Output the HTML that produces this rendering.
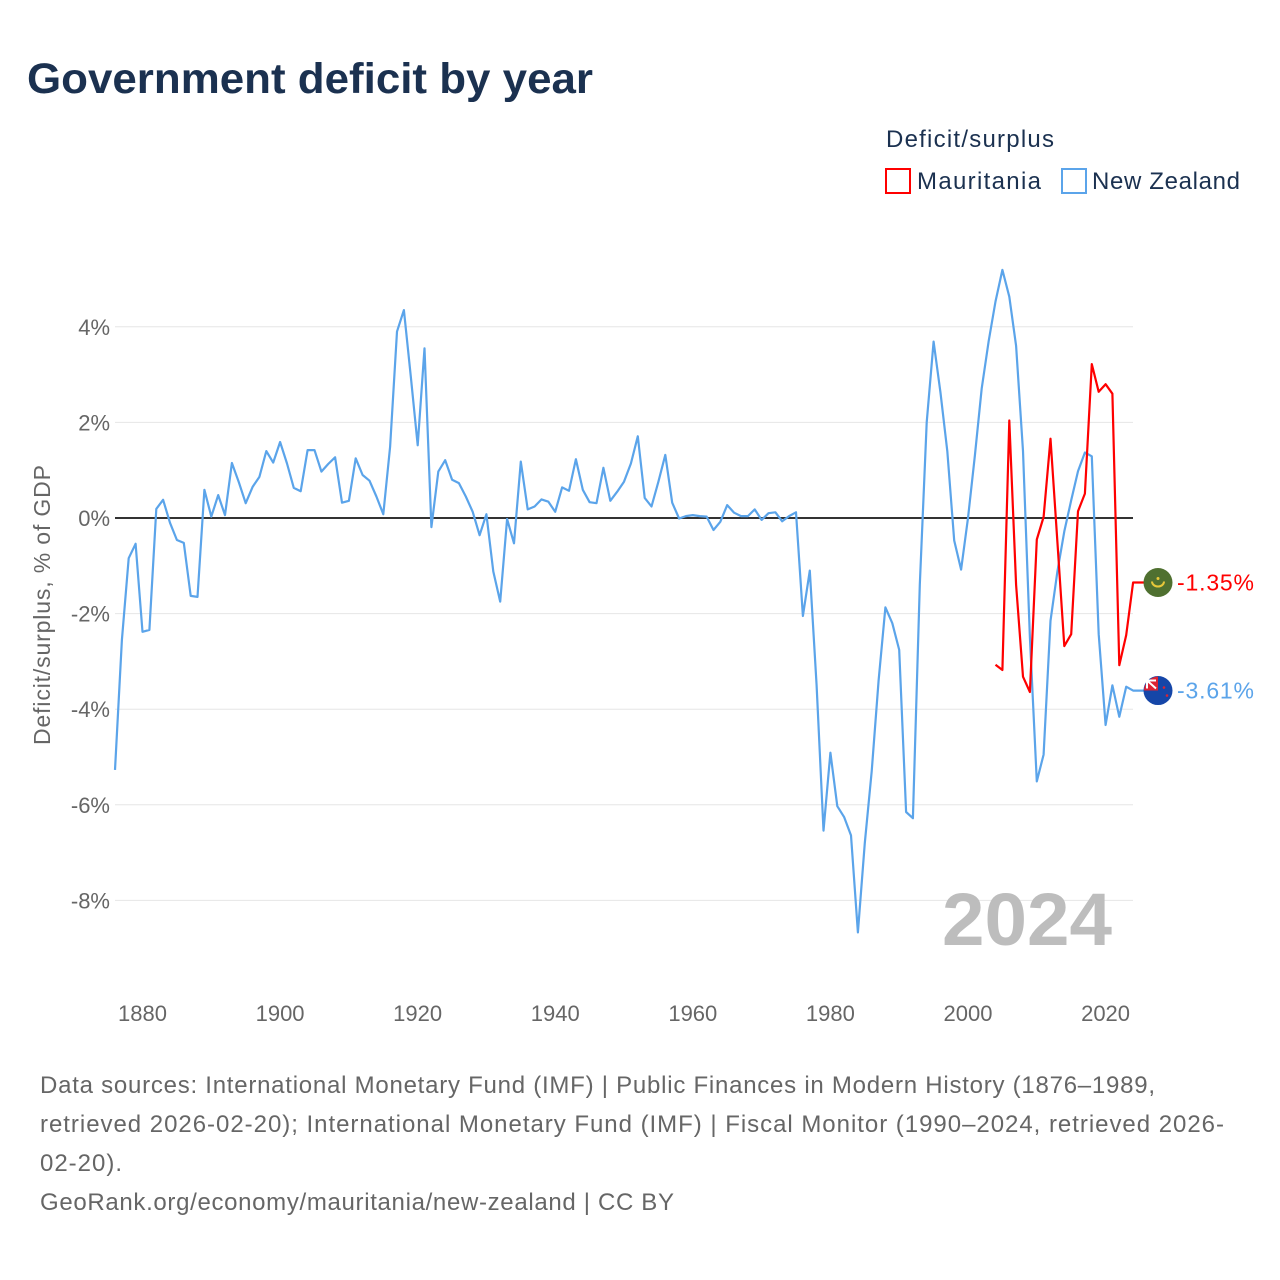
<!DOCTYPE html>
<html><head><meta charset="utf-8"><style>
body{margin:0;background:#fff;font-family:"Liberation Sans",sans-serif;}
#wrap{position:relative;width:1280px;height:1280px;overflow:hidden;}
</style></head><body>
<div id="wrap">
<svg id="chart" width="1280" height="1280" viewBox="0 0 1280 1280">
<text x="27" y="93" font-size="43" font-weight="bold" fill="#1b3150" textLength="566" lengthAdjust="spacingAndGlyphs">Government deficit by year</text>
<text x="886" y="147" font-size="24" fill="#1b3150" textLength="168">Deficit/surplus</text>
<g><rect x="886" y="169" width="24" height="24" fill="#fff" stroke="#f00" stroke-width="2"/><text x="917" y="189" font-size="24" fill="#1b3150" textLength="124">Mauritania</text></g>
<g><rect x="1062" y="169" width="24" height="24" fill="#fff" stroke="#5ba4ea" stroke-width="2"/><text x="1092" y="189" font-size="24" fill="#1b3150" textLength="148">New Zealand</text></g>
<text transform="translate(50,605) rotate(-90)" text-anchor="middle" font-size="23" fill="#666" textLength="280">Deficit/surplus, % of GDP</text>
<g id="grid"></g>
<text x="1112" y="945" text-anchor="end" font-size="74" font-weight="bold" fill="#bdbdbd" textLength="170" lengthAdjust="spacingAndGlyphs">2024</text>
<g id="series"></g>
<g id="labels"></g>
<g font-size="24" fill="#666">
<text x="40" y="1093" textLength="1115">Data sources: International Monetary Fund (IMF) | Public Finances in Modern History (1876–1989,</text>
<text x="40" y="1132" textLength="1184">retrieved 2026-02-20); International Monetary Fund (IMF) | Fiscal Monitor (1990–2024, retrieved 2026-</text>
<text x="40" y="1171" textLength="82">02-20).</text>
<text x="40" y="1210" textLength="634">GeoRank.org/economy/mauritania/new-zealand | CC BY</text>
</g>
</svg>
</div>
<script>
const yTicks=[4,2,0,-2,-4,-6,-8];
const xTicks=[1880,1900,1920,1940,1960,1980,2000,2020];
const nzStart=1876;
const nzValues=[-5.27,-2.55,-0.84,-0.54,-2.38,-2.34,0.19,0.38,-0.1,-0.46,-0.52,-1.63,-1.65,0.59,0.03,0.48,0.06,1.15,0.75,0.31,0.65,0.86,1.4,1.16,1.59,1.14,0.63,0.56,1.42,1.42,0.97,1.13,1.27,0.32,0.36,1.25,0.9,0.78,0.45,0.08,1.49,3.9,4.35,2.96,1.52,3.55,-0.19,0.97,1.21,0.8,0.73,0.45,0.13,-0.36,0.08,-1.12,-1.75,-0.02,-0.53,1.18,0.18,0.24,0.39,0.34,0.13,0.64,0.57,1.23,0.59,0.33,0.31,1.05,0.36,0.55,0.76,1.14,1.71,0.42,0.24,0.76,1.32,0.32,-0.01,0.04,0.06,0.04,0.03,-0.25,-0.08,0.27,0.11,0.04,0.04,0.18,-0.04,0.1,0.12,-0.07,0.04,0.12,-2.05,-1.1,-3.5,-6.54,-4.91,-6.03,-6.26,-6.64,-8.67,-6.8,-5.3,-3.4,-1.87,-2.2,-2.76,-6.15,-6.28,-1.4,2.0,3.69,2.62,1.4,-0.47,-1.08,0,1.31,2.71,3.69,4.53,5.19,4.63,3.6,1.4,-2.5,-5.51,-4.95,-2.15,-1.12,-0.28,0.37,0.98,1.37,1.29,-2.43,-4.33,-3.5,-4.16,-3.53,-3.61];
const mrStart=2004;
const mrValues=[-3.07,-3.18,2.04,-1.4,-3.32,-3.64,-0.45,0.02,1.66,-0.5,-2.68,-2.43,0.14,0.51,3.22,2.64,2.8,2.6,-3.08,-2.45,-1.35];
const NS='http://www.w3.org/2000/svg';
function xS(yr){return 142.5+(yr-1880)*6.879;}
function yS(v){return 518-v*47.8;}
function mk(tag,attrs,parent){const e=document.createElementNS(NS,tag);for(const k in attrs)e.setAttribute(k,attrs[k]);parent.appendChild(e);return e;}
const grid=document.getElementById('grid');
yTicks.forEach(t=>{
  const l=mk('line',{x1:115,x2:1133,y1:yS(t),y2:yS(t),stroke:t===0?'#333':'#e6e6e6','stroke-width':t===0?2:1},grid);
  
  
  const tx=mk('text',{x:110,y:yS(t)+8,'text-anchor':'end','font-size':22,fill:'#666'},grid);
  tx.textContent=t+'%';
  
  
});
xTicks.forEach(t=>{
  const tx=mk('text',{x:xS(t),y:1021,'text-anchor':'middle','font-size':22,fill:'#666'},grid);
  tx.textContent=t;
  
  
});
const ser=document.getElementById('series');
function line(start,vals,color,w,name){
  let pts=vals.map((v,i)=>xS(start+i).toFixed(1)+','+yS(v).toFixed(1));
  pts.push('1145,'+yS(vals[vals.length-1]).toFixed(1));
  const p=mk('polyline',{points:pts.join(' '),fill:'none',stroke:color,'stroke-width':w,'stroke-linejoin':'round'},ser);
  
  
}
line(nzStart,nzValues,'#5ba4ea',2.2,'new-zealand-line');
line(mrStart,mrValues,'#ff0000',2.2,'mauritania-line');
const lab=document.getElementById('labels');
function endLabel(v,color,isMR){
  const cy=yS(v);
  const g=mk('g',{},lab);
  
  
  if(isMR){
    mk('circle',{cx:1158,cy:cy,r:14.5,fill:'#4f7030'},g);
    mk('path',{d:`M1152,${cy-1} a6,5 0 0 0 12,0`,fill:'none',stroke:'#e8c83a','stroke-width':2},g);
    mk('circle',{cx:1158,cy:cy-4,r:1.5,fill:'#e8c83a'},g);
  }else{
    mk('circle',{cx:1158,cy:cy,r:14.5,fill:'#1546a8'},g);
    mk('path',{d:`M1144,${cy} L1158,${cy} L1158,${cy-14} A14.5,14.5 0 0 0 1144,${cy}Z`,fill:'#d23'},g);
    mk('path',{d:`M1147,${cy-2} L1147,${cy-10} L1156,${cy-10} M1147,${cy-10} L1156,${cy-2}`,fill:'none',stroke:'#fff','stroke-width':2},g);
    mk('circle',{cx:1164,cy:cy-3,r:1.3,fill:'#d23'},g);
    mk('circle',{cx:1167,cy:cy+5,r:1.3,fill:'#d23'},g);
  }
  const t=mk('text',{x:1177,y:cy+8,'font-size':23,fill:color,textLength:77},g);
  t.textContent=v.toFixed(2)+'%';
}
endLabel(mrValues[mrValues.length-1],'#ff0000',true);
endLabel(nzValues[nzValues.length-1],'#5ba4ea',false);
</script>
</body></html>
